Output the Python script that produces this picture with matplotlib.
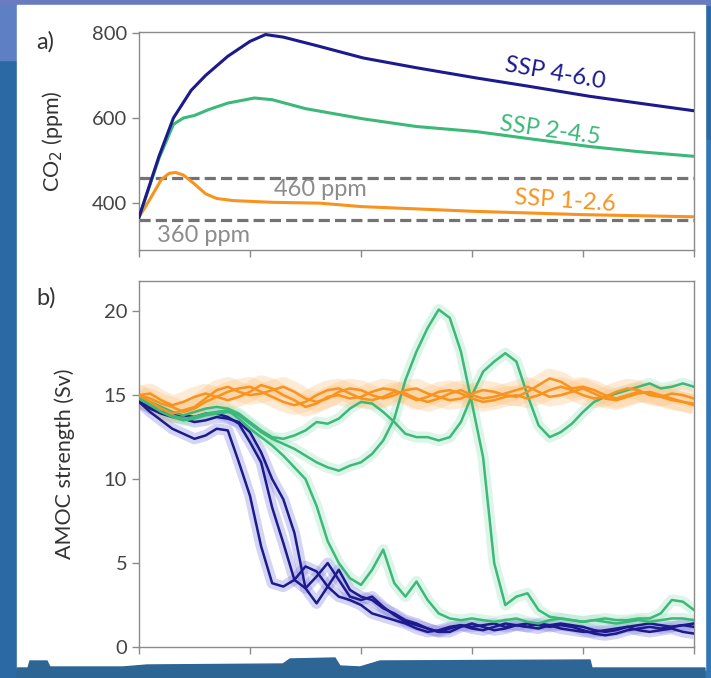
import numpy as np
import matplotlib
matplotlib.use("Agg")
import matplotlib.pyplot as plt
from matplotlib.patches import Rectangle, Polygon

plt.rcParams["font.family"] = ["Lato", "DejaVu Sans"]

NAVY = "#1c1a8c"
GREEN = "#3cb878"
ORANGE = "#f7931e"

# panel a: CO2 concentration pathways
co2_x_460 = [0, 18, 31, 47, 60, 80, 100, 114, 130, 160, 202, 250, 304, 350, 406, 450, 500]
co2_ssp460 = [367, 510, 600, 665, 700, 745, 780, 796, 790, 770, 741, 718, 694, 675, 651, 635, 617]

co2_x_245 = [0, 18, 31, 40, 50, 63, 80, 104, 120, 150, 202, 250, 304, 350, 406, 450, 500]
co2_ssp245 = [367, 505, 585, 600, 606, 620, 635, 647, 643, 622, 598, 580, 568, 552, 533, 521, 510]

co2_x_126 = [0, 10, 20, 27, 33, 40, 50, 60, 70, 85, 120, 163, 200, 300, 400, 500]
co2_ssp126 = [367, 410, 455, 470, 472, 466, 445, 422, 411, 406, 402, 400, 392, 381, 373, 368]

# panel b: AMOC strength, smoothed ensemble members (10-year steps)
years = list(range(0, 501, 10))

amoc_ssp126 = [
    [15.0, 14.6, 14.2, 13.9, 14.1, 14.3, 14.8, 15.3, 15.5, 15.2, 15.0, 15.1, 15.3, 15.5, 15.2, 14.8, 14.6,
     14.8, 15.2, 15.4, 15.3, 15.0, 14.8, 15.0, 15.3, 15.4, 15.1, 14.9, 14.7, 14.8, 15.1, 15.3, 15.2, 15.0,
     14.9, 15.2, 15.6, 16.0, 15.8, 15.4, 15.5, 15.3, 15.0, 14.8, 15.0, 15.2, 15.1, 14.9, 14.7, 14.6, 14.5],
    [15.0, 14.8, 14.5, 14.3, 14.0, 14.2, 14.6, 14.9, 15.2, 15.4, 15.5, 15.2, 14.9, 14.6, 14.4, 14.6, 15.0,
     15.3, 15.4, 15.1, 14.8, 14.7, 14.9, 15.2, 15.1, 14.8, 14.6, 14.8, 15.1, 15.3, 15.0, 14.8, 14.9, 15.1,
     15.3, 15.5, 15.2, 14.9, 15.0, 15.2, 15.4, 15.1, 14.8, 14.7, 14.9, 15.1, 15.2, 15.0, 14.8, 14.6, 14.4],
    [15.0, 15.1, 14.7, 14.4, 14.6, 14.9, 15.1, 14.9, 14.7, 14.9, 15.2, 15.6, 15.4, 15.0, 14.7, 14.3, 14.5,
     14.9, 15.0, 14.8, 14.9, 15.2, 15.4, 15.3, 15.0, 14.7, 14.9, 15.2, 15.3, 15.1, 14.8, 14.6, 14.7, 14.9,
     15.0, 14.8, 15.0, 15.3, 15.5, 15.3, 15.0, 14.8, 14.9, 15.2, 15.4, 15.3, 15.0, 14.9, 15.1, 15.0, 14.8],
]

amoc_ssp245 = [
    [14.8, 14.5, 14.2, 13.8, 13.6, 13.7, 13.9, 14.0, 14.1, 13.6, 13.0, 12.5, 12.0, 11.4, 10.7, 10.0, 8.4,
     6.3, 5.0, 4.1, 3.7, 4.6, 5.8, 3.8, 3.0, 3.9, 2.8, 2.0, 1.7, 1.6, 1.7, 1.6, 1.5, 1.6, 1.7, 1.5, 1.4,
     1.6, 1.7, 1.6, 1.5, 1.6, 1.7, 1.6, 1.6, 1.7, 1.7, 2.0, 2.8, 2.7, 2.2],
    [14.8, 14.4, 14.0, 13.7, 13.5, 13.6, 13.8, 13.9, 14.0, 13.8, 13.3, 12.8, 12.4, 12.1, 11.8, 11.4, 11.0,
     10.7, 10.5, 10.8, 11.0, 11.5, 12.3, 13.6, 15.9, 17.6, 19.0, 20.1, 19.6, 17.6, 14.5, 11.3, 5.0, 2.5,
     3.0, 3.2, 2.2, 1.8, 1.7, 1.6, 1.5, 1.6, 1.5, 1.4, 1.5, 1.6, 1.5, 1.6, 1.7, 1.7, 1.6],
    [14.8, 14.6, 14.3, 14.0, 13.8, 14.0, 14.2, 14.3, 14.2, 13.9, 13.4, 12.9, 12.5, 12.4, 12.6, 12.9, 13.4,
     13.3, 13.6, 14.2, 14.6, 14.5, 14.0, 13.4, 12.7, 12.5, 12.5, 12.3, 12.5, 13.4, 15.0, 16.4, 17.0, 17.5,
     17.0, 15.0, 13.2, 12.5, 12.8, 13.3, 14.0, 14.6, 14.9, 15.1, 15.3, 15.5, 15.7, 15.4, 15.5, 15.7, 15.5],
]

amoc_ssp460 = [
    [14.6, 14.0, 13.5, 13.0, 12.7, 12.4, 12.6, 13.0, 12.9, 11.0, 9.0, 6.0, 3.8, 3.6, 4.0, 4.8, 4.5, 3.6,
     3.0, 2.8, 2.5, 2.0, 1.8, 1.6, 1.4, 1.1, 0.9, 1.0, 1.2, 1.3, 1.2, 1.3, 1.4, 1.2, 1.3, 1.4, 1.3, 1.2,
     1.3, 1.2, 1.0, 0.8, 0.7, 0.8, 1.0, 1.1, 1.2, 1.1, 1.2, 1.3, 1.2],
    [14.6, 14.3, 14.0, 13.8, 13.8, 13.7, 13.9, 13.9, 13.7, 13.3, 12.2, 11.0, 8.3, 6.2, 4.0, 3.5, 4.2, 5.0,
     4.0, 3.0, 2.8, 3.0, 2.4, 1.9, 1.5, 1.3, 1.1, 0.9, 1.1, 1.3, 1.1, 1.0, 1.2, 1.4, 1.3, 1.2, 1.4, 1.3,
     1.1, 1.0, 0.9, 0.9, 1.0, 1.1, 1.2, 1.0, 0.9, 1.0, 1.1, 0.9, 0.8],
    [14.6, 14.2, 13.9, 13.7, 13.6, 13.4, 13.5, 13.7, 13.6, 13.4, 12.8, 11.6, 10.0, 8.8, 6.8, 3.5, 2.6, 3.6,
     4.6, 3.4, 3.0, 2.8, 2.3, 2.0, 1.6, 1.4, 1.1, 0.9, 0.9, 1.2, 1.4, 1.2, 1.0, 1.1, 1.3, 1.2, 1.1, 1.3,
     1.4, 1.3, 1.2, 1.0, 0.9, 1.0, 1.2, 1.3, 1.4, 1.3, 1.2, 1.3, 1.4],
]

W, H = 711, 678


def fx(px):
    return px / W


def fy(py):
    return 1 - py / H


fig = plt.figure(figsize=(W / 100, H / 100), dpi=100, facecolor="#2b69a4")

# slide background
fig.add_artist(Rectangle((0, fy(60)), fx(17), 1 - fy(60), color="#5f7fc4", transform=fig.transFigure, zorder=0))
fig.add_artist(Rectangle((0, fy(5)), 1, 1 - fy(5), color="#6a7cc0", transform=fig.transFigure, zorder=0))
fig.add_artist(Rectangle((fx(705), 0), 1 - fx(705), fy(140), color="#3477b5", transform=fig.transFigure, zorder=0))
fig.add_artist(Rectangle((fx(17), fy(670)), fx(705) - fx(17), fy(5) - fy(670), color="white",
                         transform=fig.transFigure, zorder=0))
skyline = [(17, 678), (17, 668), (28, 668), (30, 661), (47, 661), (50, 667), (123, 667), (147, 665),
           (283, 664), (290, 659), (335, 658), (340, 666), (360, 667), (380, 661), (590, 660), (592, 668),
           (705, 668), (705, 678)]
fig.add_artist(Polygon([(fx(a), fy(b)) for a, b in skyline], closed=True, color="#2d6594",
                       transform=fig.transFigure, zorder=0))

ax1 = fig.add_axes([fx(139), fy(250), fx(694) - fx(139), fy(32) - fy(250)])
ax2 = fig.add_axes([fx(139), fy(647), fx(694) - fx(139), fy(281) - fy(647)])

for ax in (ax1, ax2):
    ax.set_facecolor("none")
    for s in ax.spines.values():
        s.set_color("#8a8a8a")
        s.set_linewidth(1.0)
    ax.set_xlim(0, 500)
    ax.set_xticks([0, 100, 200, 300, 400, 500])
    ax.set_xticklabels([])
    ax.tick_params(direction="out", length=5, width=1, color="#8a8a8a", labelsize=14.5, labelcolor="#444444")

# panel a
ax1.axhline(460, color="#737373", lw=2.3, ls=(0, (3.5, 1.6)), zorder=1)
ax1.axhline(360, color="#737373", lw=2.3, ls=(0, (3.5, 1.6)), zorder=1)
ax1.plot(co2_x_126, co2_ssp126, color=ORANGE, lw=2.2, zorder=3)
ax1.plot(co2_x_245, co2_ssp245, color=GREEN, lw=2.2, zorder=3)
ax1.plot(co2_x_460, co2_ssp460, color=NAVY, lw=2.2, zorder=3)
ax1.set_ylim(290, 802)
ax1.set_yticks([400, 600, 800])
ax1.set_ylabel("CO$_2$ (ppm)", fontsize=15.5, color="#333333")
ax1.yaxis.set_label_coords(-0.133, 0.5)

ax1.text(375, 705, "SSP 4-6.0", color=NAVY, fontsize=17, rotation=-10, ha="center", va="center")
ax1.text(370, 570, "SSP 2-4.5", color=GREEN, fontsize=17, rotation=-8, ha="center", va="center")
ax1.text(384, 404, "SSP 1-2.6", color=ORANGE, fontsize=17, rotation=-4, ha="center", va="center")
ax1.text(163, 432, "460 ppm", color="#8c8c8c", fontsize=17, ha="center", va="center")
ax1.text(58, 324, "360 ppm", color="#8c8c8c", fontsize=17, ha="center", va="center")

# panel b: faint wide halo stands in for the unsmoothed yearly values
for series, halo, width in ((amoc_ssp460, "#8585e0", 8), (amoc_ssp245, "#9fe3c2", 8),
                            (amoc_ssp126, "#fbc688", 14)):
    for vals in series:
        ax2.plot(years, vals, color=halo, lw=width, alpha=0.35, solid_capstyle="butt", zorder=1)
for series, color in ((amoc_ssp460, NAVY), (amoc_ssp245, GREEN), (amoc_ssp126, ORANGE)):
    for vals in series:
        ax2.plot(years, vals, color=color, lw=1.8, zorder=3)

ax2.set_ylim(0, 21.8)
ax2.set_yticks([0, 5, 10, 15, 20])
ax2.set_ylabel("AMOC strength (Sv)", fontsize=15.5, color="#333333")
ax2.yaxis.set_label_coords(-0.115, 0.5)

fig.text(fx(36), fy(42), "a)", fontsize=17, color="#333333", va="center")
fig.text(fx(36), fy(298), "b)", fontsize=17, color="#333333", va="center")

fig.savefig("out.png", dpi=100, facecolor=fig.get_facecolor())
